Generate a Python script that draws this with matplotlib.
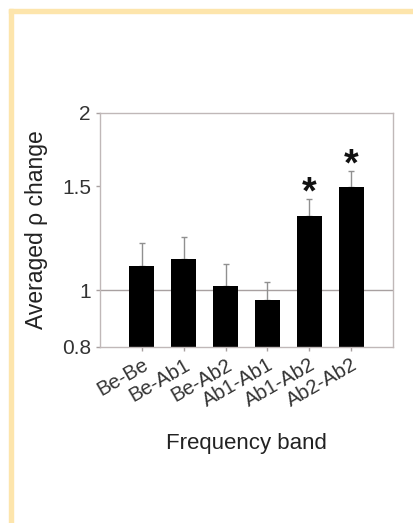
import matplotlib
matplotlib.use("Agg")
import matplotlib.pyplot as plt
from matplotlib.patches import Rectangle
from matplotlib.ticker import FixedLocator, NullLocator

plt.rcParams["font.family"] = ["Liberation Sans", "DejaVu Sans"]

bands = ["Be-Be", "Be-Ab1", "Be-Ab2", "Ab1-Ab1", "Ab1-Ab2", "Ab2-Ab2"]
means = [1.10, 1.13, 1.017, 0.962, 1.335, 1.497]
upper_err = [0.10, 0.10, 0.089, 0.071, 0.095, 0.097]
significant = [False, False, False, False, True, True]
yticks = [0.8, 1, 1.5, 2]
ytick_labels = ["0.8", "1", "1.5", "2"]

fig = plt.figure(figsize=(4.13, 5.23), dpi=100)

# yellow frame on the left and top
W, H = 413, 523
fig.patches.append(Rectangle((9 / W, 0), 4 / W, 1 - 9 / H, transform=fig.transFigure,
                             color="#fde5ac", zorder=0))
fig.patches.append(Rectangle((9 / W, 1 - 13 / H), 1, 4 / H, transform=fig.transFigure,
                             color="#fde5ac", zorder=0))

ax = fig.add_axes([100 / W, 1 - 347 / H, 293 / W, 234 / H])
x = list(range(len(bands)))

ax.axhline(1, color="#a8a0a0", linewidth=1, zorder=1)
ax.bar(x, means, width=0.6, bottom=0, color="black", zorder=2)
ax.errorbar(x, means, yerr=[[0] * len(x), upper_err], fmt="none",
            ecolor="#909090", elinewidth=1, capsize=2.5, capthick=1, zorder=1)

for xi, m, e, s in zip(x, means, upper_err, significant):
    if s:
        ax.annotate("*", (xi, m + e), xytext=(0, -9), textcoords="offset points",
                    ha="center", va="bottom", fontsize=27, fontweight="bold",
                    color="#111111")

ax.set_yscale("log")
ax.set_ylim(0.8, 2)
ax.set_xlim(-1, 6)
ax.yaxis.set_major_locator(FixedLocator(yticks))
ax.yaxis.set_minor_locator(NullLocator())
ax.set_yticklabels(ytick_labels)
ax.set_xticks(x)
ax.set_xticklabels(bands, rotation=30, ha="right", rotation_mode="anchor")

for sp in ax.spines.values():
    sp.set_color("#c0b8b8")
    sp.set_linewidth(1)
ax.tick_params(axis="both", colors="#a8a0a0", length=3, width=1,
               labelcolor="#333333", labelsize=15)
ax.tick_params(axis="x", labelsize=14.5, pad=3)

ax.set_xlabel("Frequency band", fontsize=16, color="#222222", labelpad=16)
ax.set_ylabel("Averaged ρ change", fontsize=16.5, color="#222222", labelpad=10)

fig.savefig("out.png", dpi=100)
